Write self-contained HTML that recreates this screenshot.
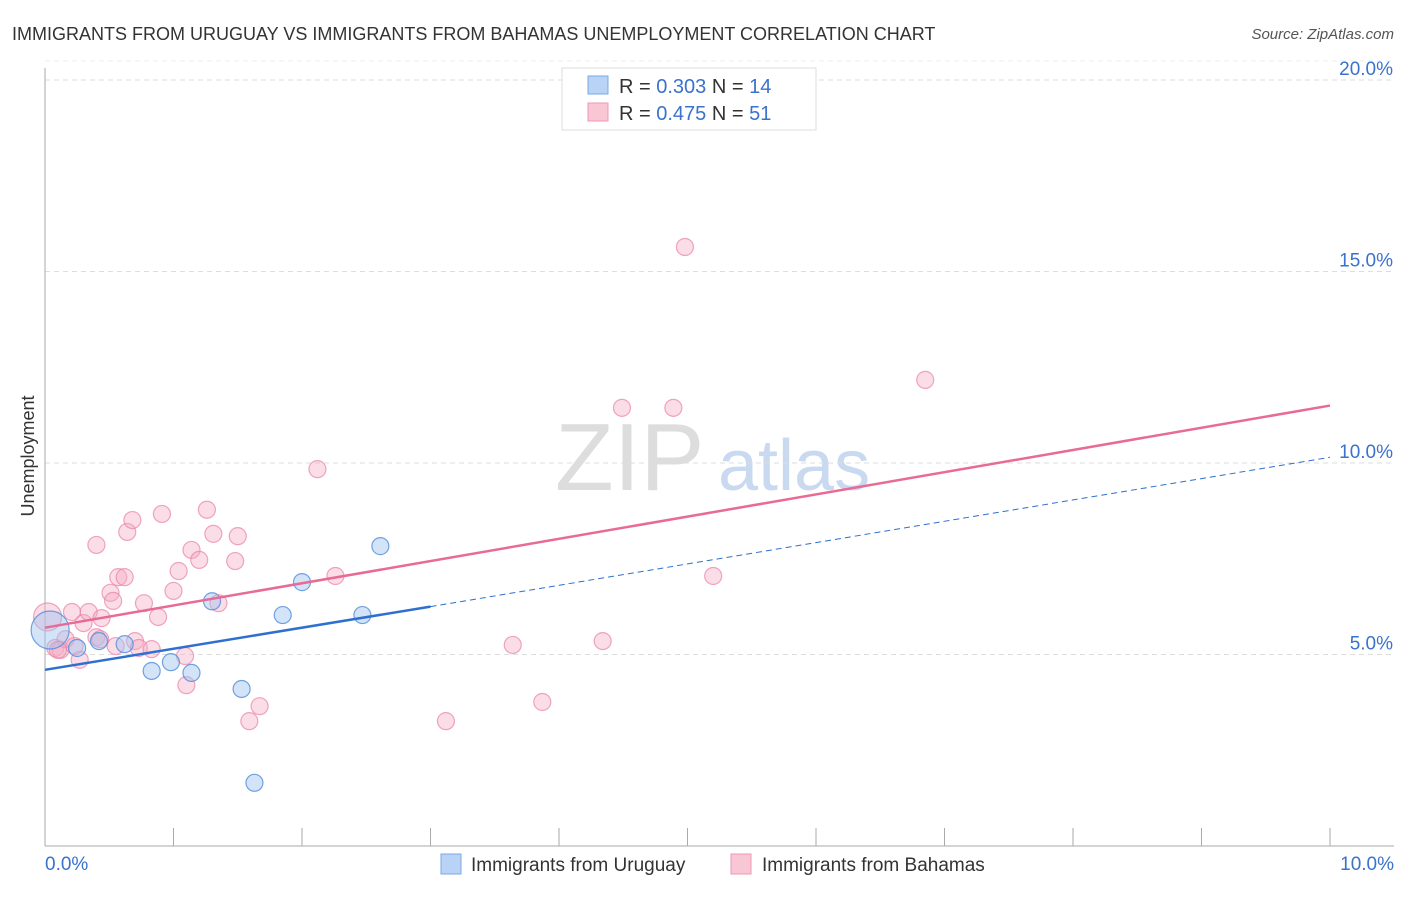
<!DOCTYPE html>
<html><head><meta charset="utf-8"><style>
body{margin:0;background:#fff;font-family:"Liberation Sans",sans-serif;}
svg text{font-family:"Liberation Sans",sans-serif;}
</style></head><body>
<svg id="c" width="1406" height="892">
<text x="12" y="40" font-size="18" fill="#333">IMMIGRANTS FROM URUGUAY VS IMMIGRANTS FROM BAHAMAS UNEMPLOYMENT CORRELATION CHART</text>
<text x="1394" y="39" font-size="15" fill="#555" font-style="italic" text-anchor="end">Source: ZipAtlas.com</text>
<text x="555" y="490" font-size="96" fill="#ddd" font-family="Liberation Serif">ZIP</text>
<text x="718" y="490" font-size="72" fill="#c8d9f0">atlas</text>
<text x="34" y="456" font-size="18" fill="#333" transform="rotate(-90 34 456)" text-anchor="middle">Unemployment</text>
<g id="grid"></g><g id="marks"></g>
<g>
<rect x="562" y="68" width="254" height="62" fill="#fff" stroke="#ddd"/>
<rect x="588" y="76" width="20" height="18" fill="#b8d3f5" stroke="#7aa8e6"/>
<rect x="588" y="103" width="20" height="18" fill="#f9c6d5" stroke="#ee98b2"/>
<text x="619" y="93" font-size="20" fill="#333">R = <tspan fill="#3a72cc">0.303</tspan>   N = <tspan fill="#3a72cc">14</tspan></text>
<text x="619" y="120" font-size="20" fill="#333">R = <tspan fill="#3a72cc">0.475</tspan>   N = <tspan fill="#3a72cc">51</tspan></text>
</g>
<g>
<rect x="441" y="854" width="20" height="20" fill="#b8d3f5" stroke="#7aa8e6"/>
<text x="471" y="871" font-size="19" fill="#333">Immigrants from Uruguay</text>
<rect x="731" y="854" width="20" height="20" fill="#f9c6d5" stroke="#ee98b2"/>
<text x="762" y="871" font-size="19" fill="#333">Immigrants from Bahamas</text>
</g>
</svg>
<script>
const yTicks=[5,10,15,20];
const yTickLabels=["5.0%","10.0%","15.0%","20.0%"];
const xTickLabels=["0.0%","10.0%"];
const uruguayX=[0.04,0.25,0.42,0.62,0.83,0.98,1.14,1.30,1.53,1.63,1.85,2.00,2.47,2.61];
const uruguayY=[5.64,5.17,5.35,5.27,4.57,4.80,4.52,6.39,4.10,1.65,6.03,6.89,6.03,7.83];
const bahamasX=[0.02,0.08,0.12,0.16,0.21,0.27,0.30,0.34,0.40,0.40,0.44,0.51,0.53,0.57,0.55,0.62,0.64,0.68,0.70,0.73,0.77,0.83,0.88,0.91,1.00,1.04,1.09,1.10,1.14,1.20,1.26,1.31,1.35,1.48,1.50,1.59,1.67,2.12,2.26,3.12,3.64,3.87,4.34,4.49,4.89,4.98,5.20,6.85,8.85,0.23,0.43];
const bahamasY=[5.98,5.17,5.12,5.40,6.11,4.86,5.82,6.11,7.86,5.45,5.95,6.61,6.40,7.02,5.22,7.02,8.20,8.51,5.35,5.17,6.34,5.14,5.98,8.67,6.66,7.18,4.96,4.20,7.73,7.47,8.78,8.15,6.34,7.44,8.09,3.26,3.65,9.84,7.05,3.26,5.25,3.76,5.35,11.44,11.44,15.64,7.05,12.17,0.00,5.22,5.40];
bahamasY[48]=5.12;bahamasX[48]=0.10;
const uruguayFit=[4.6,6.25,10.15];
const bahamasFit=[5.7,11.5];
const X=v=>45+v*128.5, Y=v=>846-v*38.3;
const NS="http://www.w3.org/2000/svg";
function mk(t,a,p){const e=document.createElementNS(NS,t);for(const k in a)e.setAttribute(k,a[k]);p.appendChild(e);return e;}
const g=document.getElementById('grid'), m=document.getElementById('marks');
yTicks.forEach((t,i)=>{
const l=mk('line',{x1:45,x2:1394,y1:Y(t),y2:Y(t),stroke:'#ddd','stroke-dasharray':'5,4'},g);


const tx=mk('text',{x:1393,y:Y(t)-11+6,'font-size':19,fill:'#3a72cc','text-anchor':'end'},g);


tx.textContent=yTickLabels[i];
});
mk('line',{x1:45,x2:1394,y1:Y(20.5),y2:Y(20.5),stroke:'#eee','stroke-dasharray':'5,4'},g);
const ax=mk('line',{x1:45,x2:45,y1:68,y2:846,stroke:'#aaa'},g);


const bx=mk('line',{x1:45,x2:1394,y1:846,y2:846,stroke:'#aaa'},g);


for(let i=1;i<=10;i++){const t=mk('line',{x1:X(i),x2:X(i),y1:828,y2:846,stroke:'#aaa'},g);

}
[[0,'start',45],[10,'end',1394]].forEach((d,i)=>{const t=mk('text',{x:d[2],y:870,'font-size':19,fill:'#3a72cc','text-anchor':d[1]},g);


t.textContent=xTickLabels[i];});
bahamasX.forEach((x,i)=>{const c=mk('circle',{cx:X(x),cy:Y(bahamasY[i]),r:i==0?14:8.5,fill:'rgba(246,170,195,0.4)',stroke:'rgba(232,130,165,0.7)','stroke-width':1.2},m);

});
uruguayX.forEach((x,i)=>{const c=mk('circle',{cx:X(x),cy:Y(uruguayY[i]),r:i==0?19:8.5,fill:'rgba(160,196,240,0.45)',stroke:'rgba(80,140,220,0.8)','stroke-width':1.2},m);

});
const bl=mk('line',{x1:X(0),y1:Y(bahamasFit[0]),x2:X(10),y2:Y(bahamasFit[1]),stroke:'#e86a95','stroke-width':2.5},m);


const ul=mk('line',{x1:X(0),y1:Y(uruguayFit[0]),x2:X(3),y2:Y(uruguayFit[1]),stroke:'#2f6fd0','stroke-width':2.5},m);


const ud=mk('line',{x1:X(3),y1:Y(uruguayFit[1]),x2:X(10),y2:Y(uruguayFit[2]),stroke:'#2f6fd0','stroke-width':1,'stroke-dasharray':'6,4'},m);


</script>
</body></html>
